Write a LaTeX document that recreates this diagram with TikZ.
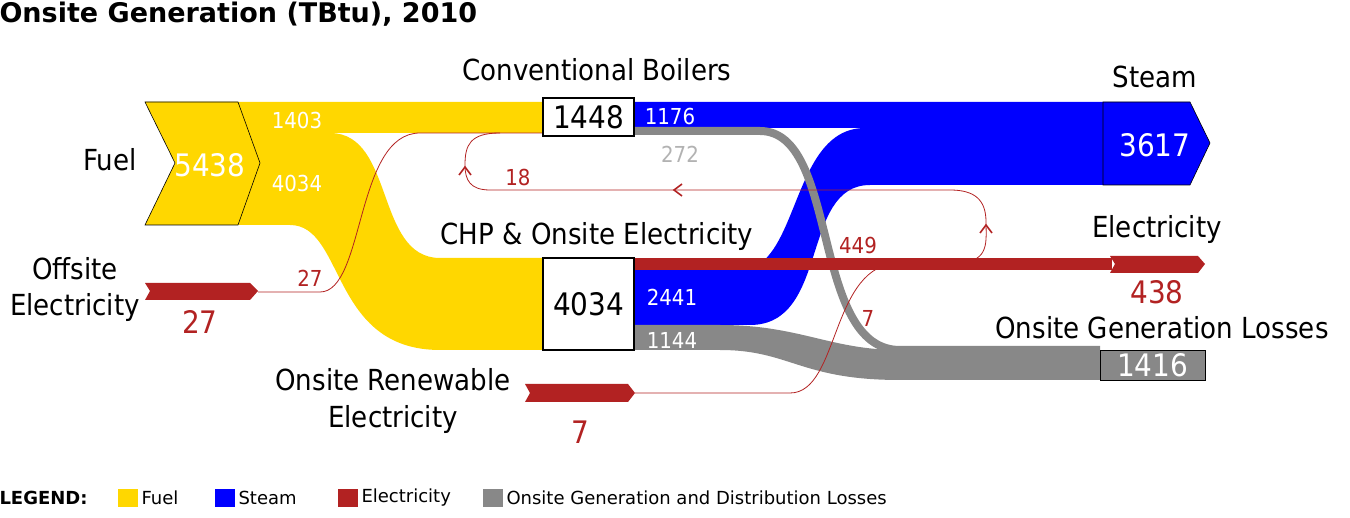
\documentclass[tikz,border=0pt]{standalone}
\usepackage{fontspec}
\setmainfont{DejaVu Sans Condensed}
\newfontfamily\legfont{DejaVu Sans}
\begin{document}
\begin{tikzpicture}[x=1pt,y=-1pt,
  lab/.style={font=\fontsize{29}{36}\selectfont},
  big/.style={font=\fontsize{31}{33}\selectfont},
  sm/.style={font=\fontsize{22}{24}\selectfont},
  leg/.style={font=\legfont\fontsize{18}{20}\selectfont,anchor=west},
  thinred/.style={draw=ered,line width=0.8pt},
  chev/.style={draw=ered,line width=1.6pt}]
\definecolor{efuel}{RGB}{255,215,0}
\definecolor{esteam}{RGB}{0,0,255}
\definecolor{ered}{RGB}{178,34,34}
\definecolor{egrey}{RGB}{136,136,136}
\useasboundingbox (0,0) rectangle (1350,518);
% fuel flows
\fill[efuel] (145,102) -- (543,102) -- (543,133) -- (238,133) -- cycle;
\fill[efuel] (238,133) -- (330,133) .. controls (395,133) and (375,258) .. (440,258) -- (543,258) -- (543,350) -- (440,350) .. controls (330,350) and (345,225) .. (290,225) -- (238,225) -- cycle;
\filldraw[fill=efuel,draw=black,line width=0.6pt] (145,102) -- (238,102) -- (260,163) -- (238,225) -- (145,225) -- (175,163) -- cycle;
% steam flows
\fill[esteam] (634,102) -- (1103,102) -- (1103,185) -- (870,185) .. controls (800,185) and (830,325) .. (750,325) -- (634,325) -- (634,270) -- (740,270) .. controls (800,270) and (790,128) .. (865,128) -- (634,128) -- cycle;
\filldraw[fill=esteam,draw=black,line width=0.6pt] (1103,102) -- (1190,102) -- (1210,143) -- (1190,185) -- (1103,185) -- cycle;
% losses
\draw[egrey,line width=8pt] (634,131) -- (760,131) .. controls (840,131) and (810,350) .. (900,350) -- (1100,350);
\fill[egrey] (634,325) -- (720,325) .. controls (800,325) and (830,350) .. (900,350) -- (1100,350) -- (1100,380) -- (900,380) .. controls (800,380) and (790,350) .. (720,350) -- (634,350) -- cycle;
\node[draw=black,fill=egrey,minimum width=105pt,minimum height=30pt,inner sep=0pt,text=white,big] (loss) at (1152.5,365) {1416};
% electricity
\fill[ered] (634,258) -- (1112,258) -- (1112,270) -- (634,270) -- cycle;
\fill[ered] (1110,256) -- (1198,256) -- (1205,264) -- (1198,273) -- (1110,273) -- (1115,264) -- cycle;
\fill[ered] (145,283) -- (250,283) -- (258,291) -- (250,300) -- (145,300) -- (150,291) -- cycle;
\fill[ered] (525,384) -- (628,384) -- (635,393) -- (628,402) -- (525,402) -- (530,393) -- cycle;
\draw[thinred] (258,292) -- (320,292) .. controls (365,292) and (355,133) .. (420,133) -- (543,133);
\draw[thinred] (635,393) -- (790,393) .. controls (840,393) and (830,263) .. (900,263);
\draw[thinred] (960,262) .. controls (990,262) and (986,240) .. (986,222) .. controls (986,200) and (975,190) .. (950,190) -- (490,190) .. controls (470,190) and (465,180) .. (465,165) .. controls (465,145) and (470,133) .. (500,133);
\draw[chev] (980,233) -- (986,225) -- (992,233);
\draw[chev] (682,184) -- (674,190) -- (682,196);
\draw[chev] (459,175) -- (465,167) -- (471,175);
% boxes
\node[draw=black,fill=white,line width=1.4pt,minimum width=91pt,minimum height=38pt,inner sep=0pt,big] (cb) at (588.5,117) {1448};
\node[draw=black,fill=white,line width=1.4pt,minimum width=91pt,minimum height=92pt,inner sep=0pt,big] (chp) at (588.5,304) {4034};
% labels
\node[anchor=west,font=\legfont\fontsize{27}{29}\selectfont\bfseries] (title) at (-4,14) {Onsite Generation (TBtu), 2010};
\node[lab] (l1) at (597,70) {Conventional Boilers};
\node[lab] (l2) at (1155,77) {Steam};
\node[lab] (l3) at (110,160) {Fuel};
\node[big,text=white] (l4) at (210,165) {5438};
\node[sm,text=white] (l5) at (297,120) {1403};
\node[sm,text=white] (l6) at (297,183) {4034};
\node[sm,text=white] (l7) at (670,116) {1176};
\node[sm,text=gray!60] (l8) at (680,154) {272};
\node[sm,text=ered] (l9) at (518,177) {18};
\node[big,text=white] (l10) at (1155,145) {3617};
\node[lab] (l11) at (597,237) {CHP \& Onsite Electricity};
\node[sm,text=ered] (l12) at (858,245) {449};
\node[lab] (l13) at (1157,230) {Electricity};
\node[big,text=ered] (l14) at (1157,292) {438};
\node[lab,align=center] (l15) at (75,290) {Offsite\\Electricity};
\node[sm,text=ered] (l16) at (310,278) {27};
\node[big,text=ered] (l17) at (200,322) {27};
\node[sm,text=white] (l18) at (672,297) {2441};
\node[sm,text=white] (l19) at (672,340) {1144};
\node[sm,text=ered] (l20) at (868,318) {7};
\node[lab] (l21) at (1162,328) {Onsite Generation Losses};
\node[lab,align=center] (l22) at (393,401) {Onsite Renewable\\Electricity};
\node[big,text=ered] (l23) at (580,432) {7};
% legend
\node[leg,font=\legfont\fontsize{18}{20}\selectfont\bfseries] (lg) at (-4,498) {LEGEND:};
\fill[efuel] (118,489) rectangle (138,507);
\node[leg] (lf) at (138,498) {Fuel};
\fill[esteam] (215,489) rectangle (235,507);
\node[leg] (ls) at (235,498) {Steam};
\fill[ered] (338,489) rectangle (358,507);
\node[leg] (le) at (358,498) {Electricity};
\fill[egrey] (483,489) rectangle (503,507);
\node[leg] (ll) at (503,498) {Onsite Generation and Distribution Losses};
\end{tikzpicture}
\end{document}
